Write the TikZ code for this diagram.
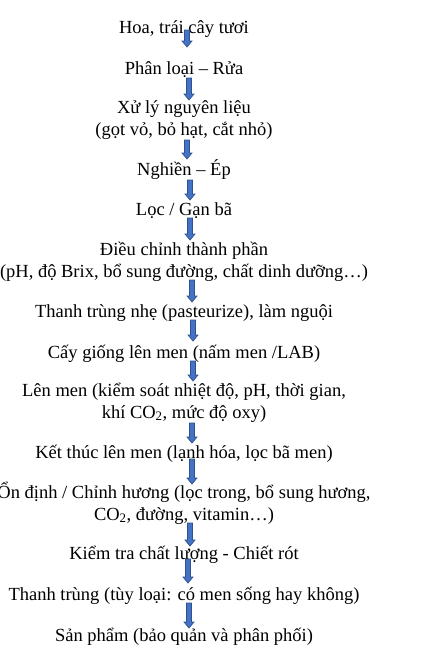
\documentclass[tikz,border=0pt]{standalone}
\usepackage{fontspec}
\setmainfont{Liberation Serif}
\usetikzlibrary{calc}
\definecolor{arrfill}{HTML}{4472C4}
\definecolor{arrline}{HTML}{2F528F}
\tikzset{
  steptext/.style={anchor=base, align=center, inner sep=0pt, font=\fontsize{18.5}{21.5}\selectfont},
  barrow/.style={fill=arrfill, draw=arrline, line width=0.7pt, line join=miter}
}
\newcommand{\blockarr}[2]{%
  \draw[barrow] let \p1=(#1), \p2=(#2) in
    (\x1-2.5pt,\y1) -- (\x1-2.5pt,\y2+6pt) -- (\x1-5pt,\y2+6pt) -- (\x1,\y2)
    -- (\x1+5pt,\y2+6pt) -- (\x1+2.5pt,\y2+6pt) -- (\x1+2.5pt,\y1) -- cycle;}
\begin{document}
\begin{tikzpicture}[x=1pt,y=-1pt]
\useasboundingbox (0,0) rectangle (443,656);
\node[steptext] (n1) at (184,33) {Hoa, trái cây tươi};
\node[steptext] (n2) at (184,74) {Phân loại – Rửa};
\node[steptext] (n3) at (184,135) {Xử lý nguyên liệu\\(gọt vỏ, bỏ hạt, cắt nhỏ)};
\node[steptext] (n4) at (184,175) {Nghiền – Ép};
\node[steptext] (n5) at (184,215) {Lọc / Gạn bã};
\node[steptext] (n6) at (184,277) {Điều chỉnh thành phần\\(pH, độ Brix, bổ sung đường, chất dinh dưỡng…)};
\node[steptext] (n7) at (184,317) {Thanh trùng nhẹ (pasteurize), làm nguội};
\node[steptext] (n8) at (184,358) {Cấy giống lên men (nấm men /LAB)};
\node[steptext] (n9) at (184,418) {Lên men (kiểm soát nhiệt độ, pH, thời gian,\\khí CO\textsubscript{2}, mức độ oxy)};
\node[steptext] (n10) at (184,458) {Kết thúc lên men (lạnh hóa, lọc bã men)};
\node[steptext] (n11) at (184,520) {Ổn định / Chỉnh hương (lọc trong, bổ sung hương,\\CO\textsubscript{2}, đường, vitamin…)};
\node[steptext] (n12) at (184,559) {Kiểm tra chất lượng - Chiết rót};
\node[steptext] (n13) at (184,600) {Thanh trùng (tùy loại: có men sống hay không)};
\node[steptext] (n14) at (184,641) {Sản phẩm (bảo quản và phân phối)};
\coordinate (a1s) at (187,30);  \coordinate (a1e) at (187,47);
\coordinate (a2s) at (189,78);  \coordinate (a2e) at (189,100);
\coordinate (a3s) at (187,140); \coordinate (a3e) at (187,159);
\coordinate (a4s) at (190,180); \coordinate (a4e) at (190,200);
\coordinate (a5s) at (190,218); \coordinate (a5e) at (190,240);
\coordinate (a6s) at (192,280); \coordinate (a6e) at (192,302);
\coordinate (a7s) at (193,320); \coordinate (a7e) at (193,341);
\coordinate (a8s) at (193,361); \coordinate (a8e) at (193,381);
\coordinate (a9s) at (192,423); \coordinate (a9e) at (192,443);
\coordinate (a10s) at (192,459); \coordinate (a10e) at (192,484);
\coordinate (a11s) at (190,523); \coordinate (a11e) at (190,546);
\coordinate (a12s) at (188,559); \coordinate (a12e) at (188,583);
\coordinate (a13s) at (189,603); \coordinate (a13e) at (189,628);
\foreach \i in {1,...,13} {\blockarr{a\i s}{a\i e}}
\end{tikzpicture}
\end{document}
